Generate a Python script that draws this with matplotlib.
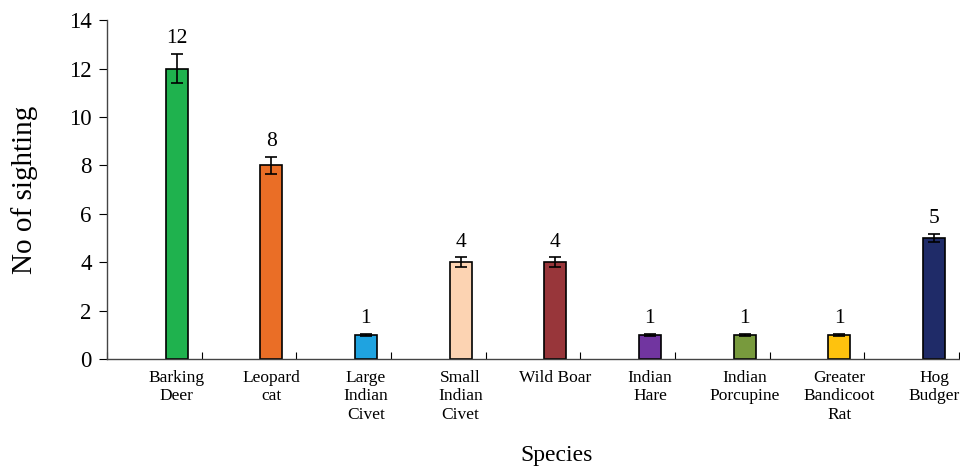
import matplotlib
matplotlib.use("Agg")
import matplotlib.pyplot as plt
import numpy as np

# sightings per species with error
species = ["Barking\nDeer", "Leopard\ncat", "Large\nIndian\nCivet", "Small\nIndian\nCivet",
           "Wild Boar", "Indian\nHare", "Indian\nPorcupine", "Greater\nBandicoot\nRat", "Hog\nBudger"]
sightings = [12, 8, 1, 4, 4, 1, 1, 1, 5]
errors = [0.6, 0.35, 0.05, 0.2, 0.2, 0.05, 0.05, 0.05, 0.17]
colors = ["#1fb24e", "#ea6e26", "#1fa3e0", "#fcd3b2", "#98363a",
          "#7135a0", "#789a3d", "#fec20e", "#1f2b68"]

plt.rcParams['font.family'] = ['Liberation Serif', 'DejaVu Serif']

fig = plt.figure(figsize=(9.6, 4.68), dpi=100)
ax = fig.add_axes([0.1115, 0.233, 0.8875, 0.724])

n = len(species)
x = np.arange(n) + 0.735
ax.bar(x, sightings, width=0.23, color=colors, edgecolor="black", linewidth=1.2,
       yerr=errors, capsize=4, error_kw=dict(ecolor="black", elinewidth=1.2, capthick=1.2))

for xi, v, e in zip(x, sightings, errors):
    ax.annotate(str(v), (xi, v + e), xytext=(0, 4), textcoords="offset points",
                ha="center", va="bottom", fontsize=15.5)

ax.set_xlim(0, n)
ax.set_ylim(0, 14)
ax.set_yticks(range(0, 15, 2))
ax.tick_params(axis="y", direction="out", length=6, labelsize=16.5, pad=5)

# category boundary ticks point inward, labels sit under the bars
ax.set_xticks(np.arange(0, n + 1))
ax.set_xticklabels([])
ax.tick_params(axis="x", which="major", direction="in", length=5)
ax.set_xticks(x, minor=True)
ax.set_xticklabels(species, minor=True, fontsize=12.5, linespacing=1.2)
ax.tick_params(axis="x", which="minor", length=0, pad=8)

ax.spines["top"].set_visible(False)
ax.spines["right"].set_visible(False)
for s in ("left", "bottom"):
    ax.spines[s].set_color("#444444")
    ax.spines[s].set_linewidth(1.0)

ax.set_ylabel("No of sighting", fontsize=21, labelpad=22)
ax.set_xlabel("Species", fontsize=17)
ax.xaxis.set_label_coords((557 - 107) / 852, -0.255)

fig.savefig("out.png", dpi=100)
